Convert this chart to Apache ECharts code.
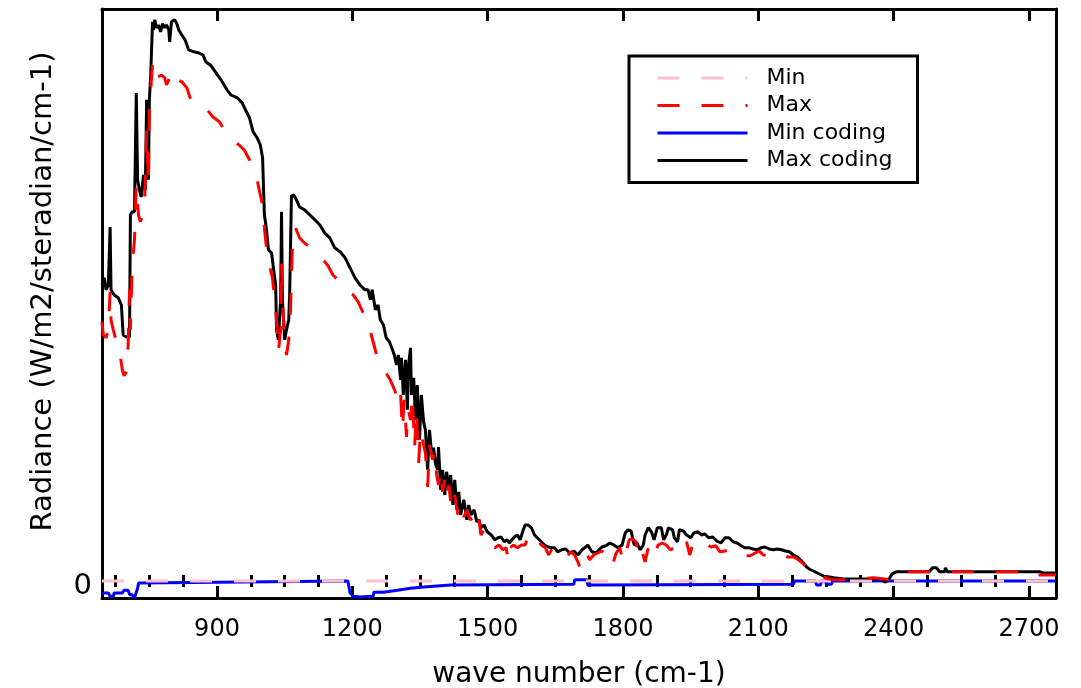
<!DOCTYPE html>
<html><head><meta charset="utf-8">
<script src="https://cdn.jsdelivr.net/npm/echarts@6/dist/echarts.min.js"></script>
<style>html,body{margin:0;padding:0;background:#fff}#c{width:1081px;height:688px}</style>
</head><body><div id="c"></div>
<script>
// ---------------- data (wave number cm-1, radiance mW/m2/sr/cm-1) ----------------
const seriesNames = ['Min', 'Max', 'Min coding', 'Max coding'];
const xTickLabels = [900, 1200, 1500, 1800, 2100, 2400, 2700];
const yTickLabels = [0];

const minSpec = [[645, 0], [2760, 0]];

const maxSpec = [[645,64.8],[648,61.5],[654,60.8],[659,62.8],[663,72.3],[665,65.3],[670,62.8],[677,59.8],[683,58.3],[690,52.8],[694,51.3],[699,52.3],[703,59],[706,72.8],[708,62.8],[712,79],[717,85.3],[721,99],[726,91.5],[730,89.8],[735,91.5],[739,92.8],[744,112.8],[748,99],[750,119],[753,122.8],[757,129],[762,129.8],[766,125.8],[770,125.3],[777,126.5],[784,125.8],[788,124],[793,125.3],[799,127.5],[806,127.3],[813,125.3],[822,124.8],[833,123.3],[842,120.3],[851,119.8],[864,119.3],[878,117.8],[891,116],[905,114.8],[916,112.8],[927,111.3],[938,109.8],[949,109],[960,107.8],[972,105.3],[980,102.8],[989,100.3],[996,96.5],[1001,94],[1005,88.3],[1009,84],[1016,79],[1023,75.8],[1027,70.8],[1032,65.3],[1036,57.3],[1041,62.8],[1043,79.8],[1045,70.3],[1050,60.3],[1054,56.5],[1059,60.3],[1063,67.8],[1068,87.3],[1074,88.3],[1083,85.8],[1094,84.5],[1106,83.5],[1119,82.3],[1132,80.8],[1146,78.8],[1157,76.5],[1168,75.3],[1179,74],[1190,72.8],[1202,71.5],[1213,69.8],[1224,67],[1235,65.3],[1242,61.5],[1248,59],[1255,56],[1264,54],[1273,52.3],[1284,50.3],[1291,48.5],[1298,46.5],[1302,44],[1307,46.5],[1311,37.8],[1315,45.3],[1320,36],[1324,42.8],[1329,40.3],[1333,46.5],[1338,33.3],[1342,42.8],[1347,29.5],[1351,37.8],[1358,34],[1362,32],[1367,23.5],[1371,34],[1378,30.3],[1382,32.3],[1387,26.5],[1391,24],[1396,27.8],[1400,22.3],[1405,25.3],[1409,21],[1414,24],[1420,17.8],[1427,21.5],[1434,16.5],[1440,19],[1447,16],[1454,17.8],[1461,15.3],[1467,15.8],[1474,12.8],[1481,15.3],[1485,11.5],[1492,12.8],[1499,10.8],[1508,9],[1516,8.3],[1525,9],[1534,7.8],[1541,8.3],[1546,4.8],[1550,8.3],[1557,9],[1566,8.3],[1575,9],[1583,9],[1590,11.3],[1597,12],[1604,11],[1610,10.3],[1619,9],[1628,8.3],[1635,6.5],[1642,7.8],[1651,7.3],[1659,6.3],[1668,7],[1675,6],[1684,7.3],[1693,6.5],[1700,4.8],[1704,3.5],[1709,6.5],[1718,7.3],[1726,5.3],[1735,6.5],[1744,7],[1753,7.5],[1762,6.5],[1771,7.3],[1778,4.5],[1785,7],[1793,8.3],[1800,4.8],[1807,7.3],[1814,10.3],[1822,10.5],[1829,9.8],[1834,6.5],[1840,8.3],[1849,4.8],[1856,8.3],[1865,9.8],[1872,7.3],[1878,9],[1887,9.5],[1896,9],[1905,7.8],[1914,8.3],[1923,7],[1932,7.8],[1941,9.8],[1948,6.5],[1954,9],[1963,10],[1972,10.3],[1983,9.3],[1995,8.5],[2006,8.8],[2015,7.3],[2026,7.5],[2037,7.8],[2048,8],[2059,7],[2070,6.3],[2082,6.3],[2093,7],[2102,7.5],[2111,6.5],[2122,6.3],[2133,7],[2144,7],[2155,6.5],[2166,6],[2178,6],[2189,5.3],[2200,4.3],[2207,3.5],[2213,2.8],[2222,2.5],[2233,2],[2245,1],[2256,0.5],[2267,0.3],[2289,0.3],[2323,0.5],[2356,0.8],[2379,0.5],[2388,0.3],[2397,1.5],[2412,2.3],[2490,2.3],[2647,2.3],[2714,2.3],[2721,1.5],[2760,1.5]];

const minCodingSpec = [[645,-3],[659,-3],[663,-3.8],[670,-3.8],[672,-3],[690,-3],[694,-2.3],[703,-2.3],[706,-3.3],[712,-3.5],[717,-4.2],[721,-4.2],[724,-1.8],[726,-0.5],[730,0],[1190,0],[1195,-3],[1202,-3.8],[1217,-4],[1246,-3.8],[1248,-2.8],[1269,-2.8],[1271,-2.3],[1300,-2.3],[1302,-1.8],[1329,-1.8],[1333,-1.5],[1358,-1.5],[1360,-1],[1418,-1],[1420,-0.8],[1691,-0.8],[1693,0.3],[1720,0.3],[1722,-1],[1735,-1],[1738,-0.8],[2178,-0.8],[2180,0],[2227,0],[2229,-1],[2238,-1],[2240,0],[2249,0],[2251,-0.8],[2262,-0.8],[2265,0],[2760,0]];

const maxCodingSpec = [[645,74],[650,75.8],[654,72.8],[659,74],[663,88.5],[665,72.8],[672,71.5],[681,70.8],[688,69],[692,61.5],[699,61],[706,61],[708,91.5],[712,92.3],[717,92.3],[719,92],[721,122],[724,100.3],[728,97.8],[732,96],[737,101.5],[741,97.8],[744,120.3],[748,100.3],[750,120.3],[753,126.5],[757,139.8],[759,137.8],[762,140.3],[766,138.3],[770,139],[775,137.3],[779,139.3],[784,138.3],[788,139],[793,137.8],[795,134.8],[799,139.8],[806,140.3],[811,139.3],[815,137.8],[822,136.5],[829,135.3],[837,132.8],[849,132.3],[860,132],[869,131.5],[875,129.8],[887,128.8],[898,127],[909,125.3],[922,122.8],[931,121.5],[945,120.8],[956,119.5],[963,117.8],[972,115.8],[980,112.3],[989,110.8],[996,109],[1001,105.8],[1005,91.5],[1009,88.5],[1014,82.8],[1021,82],[1025,78.3],[1030,74],[1032,62.8],[1036,60.3],[1041,70.3],[1043,92.3],[1045,70.3],[1050,60.3],[1054,62.8],[1059,65.3],[1061,71.5],[1065,96.3],[1070,96.5],[1076,95.3],[1083,93.5],[1094,92.8],[1106,91.5],[1117,90.3],[1128,89],[1139,87],[1150,85.8],[1161,83.3],[1173,82.3],[1184,80.8],[1195,78.3],[1206,75.8],[1217,74],[1228,72.8],[1235,72.8],[1240,70.3],[1244,72.8],[1251,67.8],[1257,69],[1262,65.3],[1269,64],[1275,60.8],[1282,59.8],[1289,57.8],[1293,56.5],[1298,54],[1302,56.5],[1307,50.3],[1309,55.8],[1313,46.5],[1318,55.3],[1322,42.8],[1324,53.3],[1329,58.3],[1331,46.5],[1336,50.8],[1340,40.3],[1344,49],[1349,35.3],[1353,46.5],[1358,39.8],[1362,37.8],[1367,27.8],[1371,37.8],[1376,31.5],[1380,33.3],[1385,29],[1389,27.8],[1391,33.5],[1396,22.8],[1400,27.8],[1405,21.5],[1409,27.3],[1414,22.8],[1418,26.5],[1423,19],[1427,25.3],[1432,17.8],[1436,22.3],[1440,16.5],[1447,20.3],[1454,15.3],[1458,19],[1463,16.5],[1470,17.8],[1476,14.8],[1481,15.3],[1485,13.3],[1492,14],[1499,12.3],[1508,11.5],[1516,10.3],[1523,10.8],[1530,11],[1537,9.8],[1543,10.3],[1548,9.5],[1552,9.8],[1559,11],[1566,11.5],[1572,10.3],[1579,12.8],[1583,14],[1590,14],[1597,13.3],[1604,11.5],[1610,10.8],[1619,9.8],[1626,9],[1635,8.5],[1642,8.3],[1648,8.3],[1655,7.3],[1664,7.8],[1673,8],[1682,7],[1691,7.5],[1700,6.5],[1709,7.8],[1715,8.3],[1722,9],[1731,7.3],[1740,7],[1747,7.8],[1753,8.5],[1762,8.8],[1771,9.5],[1780,9],[1789,8.3],[1798,9],[1805,12],[1811,12.8],[1818,12.5],[1825,9],[1831,9.5],[1838,7.8],[1845,9],[1849,11.5],[1856,13.3],[1863,12.3],[1869,10.3],[1876,13.3],[1885,13.3],[1890,10.3],[1896,11.5],[1901,13.3],[1910,12.8],[1914,10.8],[1921,9.8],[1925,12.8],[1934,12.5],[1941,11.5],[1950,10.8],[1957,12],[1966,12.3],[1974,11.5],[1981,11.8],[1990,10.8],[1999,11],[2008,10],[2017,9.5],[2026,10.8],[2035,10.8],[2044,9.8],[2053,9.5],[2062,8.8],[2070,8.3],[2079,8.3],[2088,8],[2097,7.8],[2106,8.3],[2115,8.5],[2124,8],[2133,7.8],[2142,8],[2151,7.8],[2160,7.5],[2169,7.3],[2178,6.5],[2187,6],[2193,5.3],[2200,4.5],[2207,3.5],[2213,3],[2222,2.5],[2231,2],[2240,1.5],[2249,1],[2258,1],[2267,0.8],[2289,0.5],[2334,0.5],[2374,0.5],[2381,-0.3],[2390,0.5],[2397,1.8],[2406,2.3],[2423,2.3],[2479,2.3],[2486,3.3],[2495,3.3],[2502,2.3],[2513,2.3],[2515,3.3],[2519,2.3],[2647,2.3],[2725,2.3],[2732,2],[2760,2]];

// ---------------- layout ----------------
const X_MIN = 645, X_MAX = 2760;
const Y_MIN = -4.25, Y_MAX = 143;
const minorTicks = [];
for (let v = 675; v <= X_MAX; v += 75) { if (v % 300 !== 0) minorTicks.push(v); }
const FONT = 'DejaVu Sans';
const black = '#000000';

const xBase = { type: 'value', min: X_MIN, max: X_MAX, splitLine: { show: false }, gridIndex: 0 };
const frameLine = { show: true, onZero: false, lineStyle: { color: black, width: 3 } };
const tickStyle = { color: black, width: 3 };

const option = {
  backgroundColor: '#ffffff',
  animation: false,
  grid: { left: 102, right: 25, top: 9, bottom: 90, containLabel: false, outerBoundsMode: 'none' },
  xAxis: [
    Object.assign({}, xBase, {
      position: 'bottom',
      axisLine: frameLine,
      axisTick: { show: true, inside: true, length: 12, customValues: xTickLabels, lineStyle: tickStyle },
      axisLabel: { show: true, customValues: xTickLabels, formatter: v => String(v), color: black, fontFamily: FONT, fontSize: 24, margin: 20 },
      name: 'wave number (cm-1)', nameLocation: 'middle', nameGap: 63,
      nameTextStyle: { color: black, fontFamily: FONT, fontSize: 28 }
    }),
    Object.assign({}, xBase, {
      position: 'bottom',
      axisLine: { show: false },
      axisTick: { show: true, inside: true, length: 6, customValues: minorTicks, lineStyle: tickStyle },
      axisLabel: { show: false }
    }),
    Object.assign({}, xBase, {
      position: 'top',
      axisLine: frameLine,
      axisTick: { show: true, inside: true, length: 12, customValues: xTickLabels, lineStyle: tickStyle },
      axisLabel: { show: false }
    }),
    Object.assign({}, xBase, {
      position: 'top',
      axisLine: { show: false },
      axisTick: { show: true, inside: true, length: 6, customValues: minorTicks, lineStyle: tickStyle },
      axisLabel: { show: false }
    })
  ],
  yAxis: [
    {
      type: 'value', min: Y_MIN, max: Y_MAX, position: 'left',
      axisLine: frameLine, axisTick: { show: false }, splitLine: { show: false },
      axisLabel: {
        show: true, customValues: yTickLabels, margin: 10,
        formatter: v => '{z|' + v + '}',
        rich: { z: { color: black, fontFamily: FONT, fontSize: 29, padding: [10, 0, 0, 0] } }
      },
      name: 'Radiance (W/m2/steradian/cm-1)', nameLocation: 'middle', nameGap: 44, nameRotate: 90,
      nameTextStyle: { color: black, fontFamily: FONT, fontSize: 29, padding: [0, 0, 0, 24] }
    },
    {
      type: 'value', min: Y_MIN, max: Y_MAX, position: 'right',
      axisLine: frameLine, axisTick: { show: false }, splitLine: { show: false },
      axisLabel: { show: false }
    }
  ],
  legend: {
    data: seriesNames,
    orient: 'vertical',
    left: 629, top: 56,
    padding: [11, 25, 11, 27],
    itemWidth: 90, itemHeight: 22, itemGap: 5.5,
    backgroundColor: '#ffffff',
    borderColor: black, borderWidth: 3, borderRadius: 0,
    selectedMode: false,
    itemStyle: { opacity: 0 },
    lineStyle: { width: 3 },
    textStyle: { color: black, fontFamily: FONT, fontSize: 22, lineHeight: 22, padding: [0, 0, 0, 14] }
  },
  series: [
    { name: 'Min coding', type: 'line', data: minCodingSpec, showSymbol: false, symbol: 'none',
      lineStyle: { color: '#0000ff', width: 3 }, itemStyle: { color: '#0000ff' }, z: 2 },
    { name: 'Max coding', type: 'line', data: maxCodingSpec, showSymbol: false, symbol: 'none',
      lineStyle: { color: '#000000', width: 3 }, itemStyle: { color: '#000000' }, z: 3 },
    { name: 'Min', type: 'line', data: minSpec, showSymbol: false, symbol: 'none',
      lineStyle: { color: '#ffc0cb', width: 3, type: [22, 22] }, itemStyle: { color: '#ffc0cb' }, z: 4 },
    { name: 'Max', type: 'line', data: maxSpec, showSymbol: false, symbol: 'none',
      lineStyle: { color: '#ff0000', width: 3, type: [22, 22] }, itemStyle: { color: '#ff0000' }, z: 5 }
  ]
};

const chart = echarts.init(document.getElementById('c'), null, { renderer: 'canvas' });
chart.setOption(option);
</script>
</body></html>
